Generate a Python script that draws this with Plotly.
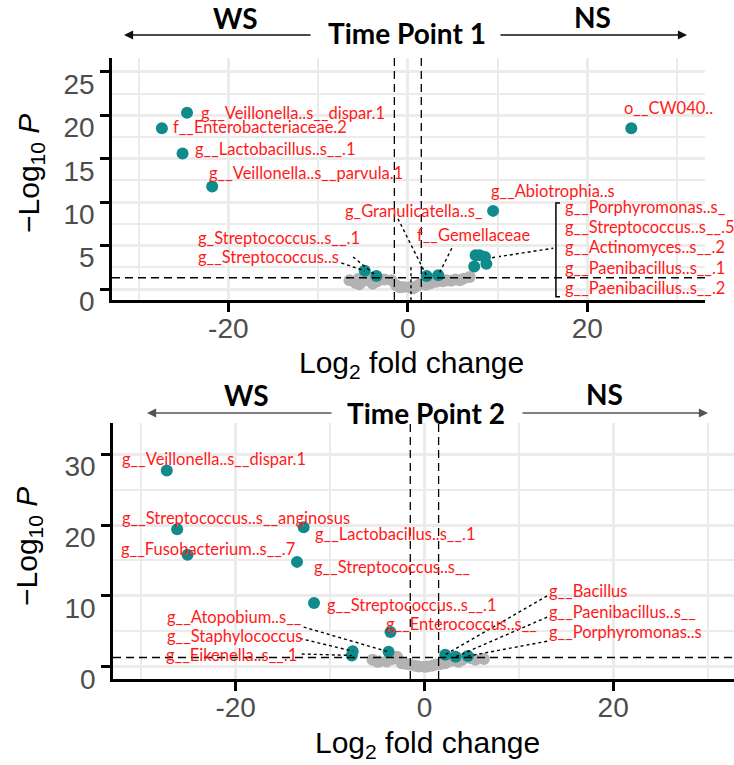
import plotly.graph_objects as go

W, H = 734, 765

FC_CUTOFF = 1.5
P_CUTOFF_LOG = 1.30103  # -log10(0.05)

# ---------------- Time Point 1 ----------------
tp1_names = [
    "g__Veillonella..s__dispar.1", "f__Enterobacteriaceae.2", "g__Lactobacillus..s__.1",
    "g__Veillonella..s__parvula.1", "g_Streptococcus..s__.1", "g__Streptococcus..s",
    "o__CW040..", "g__Abiotrophia..s", "g_Granulicatella..s_", "f__Gemellaceae",
    "g__Porphyromonas..s_", "g__Streptococcus..s__.5", "g__Actinomyces..s__.2",
    "g__Paenibacillus..s__.1", "g__Paenibacillus..s__.2",
]
tp1_lfc = [-24.6, -27.4, -25.1, -21.8, -3.5, -4.8, 24.9, 9.5, 2.1, 3.4,
           7.55, 8.0, 8.6, 7.4, 8.75]
tp1_logp = [20.3, 18.5, 15.6, 11.8, 1.5, 2.1, 18.5, 9.0, 1.5, 1.6,
            3.9, 3.9, 3.7, 2.6, 2.9]

tp1_ns_lfc = [-6.5, -5.8, -5.5, -4.6, -5.4, -3.9, -3.4, -4.2, -2.6, -1.8, -1.3, -0.9,
              -0.5, 0.2, 0.6, 1.0, 1.5, 2.0, 2.5, 2.8, 3.2, 3.9, 4.3, 4.8, 5.3, 5.8,
              6.2, 6.9]
tp1_ns_logp = [1.0, 0.7, 1.2, 1.0, 0.55, 0.6, 0.9, 1.3, 1.1, 1.0, 0.45, 0.2,
               0.25, 0.2, 0.1, 0.35, 0.65, 0.5, 0.65, 1.2, 0.85, 0.9, 1.0, 0.95, 1.1, 1.0,
               1.2, 1.4]

# ---------------- Time Point 2 ----------------
tp2_names = [
    "g__Veillonella..s__dispar.1", "g__Streptococcus..s__anginosus", "g__Fusobacterium..s__.7",
    "g__Lactobacillus..s__.1", "g__Streptococcus..s__", "g__Streptococcus..s__.1",
    "g__Enterococcus..s__", "g__Atopobium..s__", "g__Staphylococcus", "g__Eikenella..s__.1",
    "g__Bacillus", "g__Paenibacillus..s__", "g__Porphyromonas..s",
]
tp2_lfc = [-27.3, -26.2, -25.1, -12.8, -13.5, -11.7, -3.6, -3.8, -7.6, -7.7, 2.2, 3.3, 4.6]
tp2_logp = [27.7, 19.4, 15.8, 19.7, 14.8, 9.0, 4.9, 2.1, 2.2, 1.6, 1.7, 1.4, 1.5]

tp2_ns_lfc = [-5.5, -5.0, -4.8, -4.0, -3.4, -2.9, -2.4, -1.9, -1.5, -1.0, -0.6, 0.0,
              0.3, 0.8, 1.2, 1.7, 2.2, 2.7, 3.1, 3.6, 4.0, 4.9, 5.4, 6.3]
tp2_ns_logp = [1.0, 0.7, 0.75, 0.75, 1.1, 1.4, 0.5, 0.4, 0.3, 0.15, 0.05, 0.0,
               0.05, 0.15, 0.3, 0.4, 0.5, 0.8, 1.0, 0.7, 1.0, 1.2, 1.0, 1.1]

# tick values
x_ticks = [-20, 0, 20]
tp1_y_ticks = [0, 5, 10, 15, 20, 25]
tp2_y_ticks = [0, 10, 20, 30]

# ---------------- label placement (data units) ----------------
tp1_label_x = [-23.3, -26.4, -23.9, -22.4, -23.6, -23.6, 23.9, 9.0, -7.2, 0.8,
               17.3, 17.3, 17.3, 17.3, 17.3]
tp1_label_y = [20.3, 18.7, 16.1, 13.4, 5.9, 3.7, 20.9, 11.3, 9.0, 6.2,
               9.4, 7.1, 4.8, 2.4, 0.1]
# leader line start (label side) for labels that are pulled away from their point
tp1_leaders = {4: (-6.1, 3.7), 5: (-7.4, 3.0), 8: (-1.1, 8.1), 9: (4.9, 4.7)}
tp1_group = [10, 11, 12, 13, 14]          # labels collected behind a bracket
tp1_bracket = dict(x=16.5, top=9.9, bottom=-0.9, tick=0.45, join=(16.2, 4.7))

tp2_label_x = [-32.3, -32.3, -32.4, -11.8, -11.9, -10.5, -4.3, -27.5, -27.5, -27.6,
               13.0, 13.0, 13.0]
tp2_label_y = [29.3, 21.0, 16.6, 18.8, 14.1, 8.7, 6.0, 7.0, 4.3, 1.6, 10.7, 7.7, 4.9]
tp2_leaders = {7: (-12.8, 5.6), 8: (-13.2, 4.0), 9: (-13.0, 1.8),
               10: (13.0, 10.0), 11: (13.0, 7.0), 12: (13.0, 3.6)}

# ---------------- styling ----------------
TEAL = "#0F8B8B"
GREY_PT = "#B3B3B3"
GRID = "#EBEBEB"
LABEL_RED = "#FF1A1A"
TICK_FONT = dict(family="Liberation Sans, Arial, sans-serif", size=28, color="#4D4D4D")
TITLE_FONT = dict(family="Liberation Sans, Arial, sans-serif", size=30, color="#000000")
HEAD_FONT = dict(family="Lato, sans-serif", size=28, color="#000000")
LABEL_FONT = dict(family="Lato, sans-serif", size=16.5, color=LABEL_RED)


def px(xp, yp):
    return xp / W, 1 - yp / H


fig = go.Figure()
shapes = []
annotations = []

panels = [
    dict(xa="x", ya="y", names=tp1_names, lfc=tp1_lfc, logp=tp1_logp,
         ns_lfc=tp1_ns_lfc, ns_logp=tp1_ns_logp, lx=tp1_label_x, ly=tp1_label_y,
         leaders=tp1_leaders),
    dict(xa="x2", ya="y2", names=tp2_names, lfc=tp2_lfc, logp=tp2_logp,
         ns_lfc=tp2_ns_lfc, ns_logp=tp2_ns_logp, lx=tp2_label_x, ly=tp2_label_y,
         leaders=tp2_leaders),
]

for p in panels:
    xa, ya = p["xa"], p["ya"]
    # cut-off lines
    for xv in (-FC_CUTOFF, FC_CUTOFF):
        shapes.append(dict(type="line", xref=xa, yref=f"{ya} domain", x0=xv, x1=xv, y0=0, y1=1,
                           line=dict(color="black", width=1.3, dash="8px,5px"), layer="above"))
    shapes.append(dict(type="line", xref=f"{xa} domain", yref=ya, x0=0, x1=1,
                       y0=P_CUTOFF_LOG, y1=P_CUTOFF_LOG,
                       line=dict(color="black", width=1.3, dash="8px,5px"), layer="above"))
    # leader lines
    for i, (sx, sy) in p["leaders"].items():
        shapes.append(dict(type="line", xref=xa, yref=ya, x0=sx, y0=sy,
                           x1=p["lfc"][i], y1=p["logp"][i],
                           line=dict(color="black", width=1.4, dash="dot"), layer="above"))
    fig.add_trace(go.Scatter(x=p["ns_lfc"], y=p["ns_logp"], mode="markers", xaxis=xa, yaxis=ya,
                             marker=dict(size=12, color=GREY_PT, line=dict(width=0)),
                             showlegend=False, hoverinfo="skip"))
    fig.add_trace(go.Scatter(x=p["lfc"], y=p["logp"], mode="markers", xaxis=xa, yaxis=ya,
                             marker=dict(size=12, color=TEAL, line=dict(width=0)),
                             text=p["names"], showlegend=False))
    for name, tx, ty in zip(p["names"], p["lx"], p["ly"]):
        annotations.append(dict(x=tx, y=ty, xref=xa, yref=ya, text=name, showarrow=False,
                                xanchor="left", yanchor="middle", font=LABEL_FONT))

# bracket gathering the crowded Time Point 1 labels
b = tp1_bracket
shapes.append(dict(type="path", xref="x", yref="y",
                   path=(f"M {b['x'] + b['tick']},{b['top']} L {b['x']},{b['top']} "
                         f"L {b['x']},{b['bottom']} L {b['x'] + b['tick']},{b['bottom']}"),
                   line=dict(color="black", width=1.5)))
gx = sum(tp1_lfc[i] for i in tp1_group) / len(tp1_group)
gy = sum(tp1_logp[i] for i in tp1_group) / len(tp1_group)
shapes.append(dict(type="line", xref="x", yref="y", x0=gx, y0=gy, x1=b["join"][0], y1=b["join"][1],
                   line=dict(color="black", width=1.4, dash="dot"), layer="below"))
# short leader dropping from the centre of Time Point 1
shapes.append(dict(type="line", xref="x", yref="y", x0=0.35, x1=0.35, y0=2.5, y1=-1.26,
                   line=dict(color="black", width=1.4, dash="dot")))

# headings, group names and direction arrows
heads = [
    ("Time Point 1", 407, 33), ("WS", 235, 18), ("NS", 592, 17),
    ("Time Point 2", 426, 413), ("WS", 247, 395), ("NS", 604, 394),
]
for text, hx, hy in heads:
    x, y = px(hx, hy)
    annotations.append(dict(x=x, y=y, xref="paper", yref="paper", text=f"<b>{text}</b>",
                            showarrow=False, xanchor="center", yanchor="middle", font=HEAD_FONT))

arrows = [  # (head x, tail x, y, colour)
    (124, 312, 35, "#111111"), (687, 499, 35, "#111111"),
    (147, 333, 413, "#555555"), (708, 521, 413, "#555555"),
]
for hx, tx, yy, col in arrows:
    x, y = px(hx, yy)
    annotations.append(dict(x=x, y=y, xref="paper", yref="paper", ax=tx - hx, ay=0,
                            text="", showarrow=True, arrowhead=2, arrowsize=1.3,
                            arrowwidth=1.4, arrowcolor=col))

# axis titles
for cx, cy in [(31, 174), (28, 547)]:
    x, y = px(cx, cy)
    annotations.append(dict(x=x, y=y, xref="paper", yref="paper", textangle=-90,
                            text="\u2212Log<sub>10</sub> <i>P</i>", showarrow=False,
                            xanchor="center", yanchor="middle", font=TITLE_FONT))
for cx, cy in [(411, 364), (427, 744)]:
    x, y = px(cx, cy)
    annotations.append(dict(x=x, y=y, xref="paper", yref="paper",
                            text="Log<sub>2</sub> fold change", showarrow=False,
                            xanchor="center", yanchor="middle", font=TITLE_FONT))


def axis_common():
    return dict(showgrid=True, gridcolor=GRID, gridwidth=2.5, zeroline=False, showline=True,
                linecolor="black", linewidth=2.5, ticks="outside", ticklen=9, tickwidth=2.5,
                tickcolor="black", tickfont=TICK_FONT, fixedrange=True, automargin=False)


def xaxis(domain, rng, anchor):
    return dict(axis_common(), domain=domain, range=rng, anchor=anchor, tickmode="array",
                tickvals=x_ticks, ticktext=[str(v) for v in x_ticks], ticklabelstandoff=-7,
                minor=dict(tickmode="linear", dtick=10, tick0=0, showgrid=True,
                           gridcolor=GRID, gridwidth=2))


def yaxis(domain, rng, ticks, anchor):
    step = ticks[1] - ticks[0]
    return dict(axis_common(), domain=domain, range=rng, anchor=anchor, tickmode="array",
                tickvals=ticks, ticktext=[str(v) for v in ticks], ticklabelshift=12,
                minor=dict(tickmode="linear", dtick=step / 2, tick0=0, showgrid=True,
                           gridcolor=GRID, gridwidth=2))


fig.update_layout(
    width=W, height=H, margin=dict(l=0, r=0, t=0, b=0, autoexpand=False),
    paper_bgcolor="white", plot_bgcolor="white", showlegend=False,
    xaxis=xaxis([112 / W, 705 / W], [-32.96, 33.11], "y"),
    yaxis=yaxis([1 - 300 / H, 1 - 58 / H], [-1.26, 26.6], tp1_y_ticks, "x"),
    xaxis2=xaxis([113 / W, 1.0], [-33.0, 32.8], "y2"),
    yaxis2=yaxis([1 - 679 / H, 1 - 423 / H], [-1.73, 34.4], tp2_y_ticks, "x2"),
    shapes=shapes, annotations=annotations,
)

fig.write_html("out.html")
